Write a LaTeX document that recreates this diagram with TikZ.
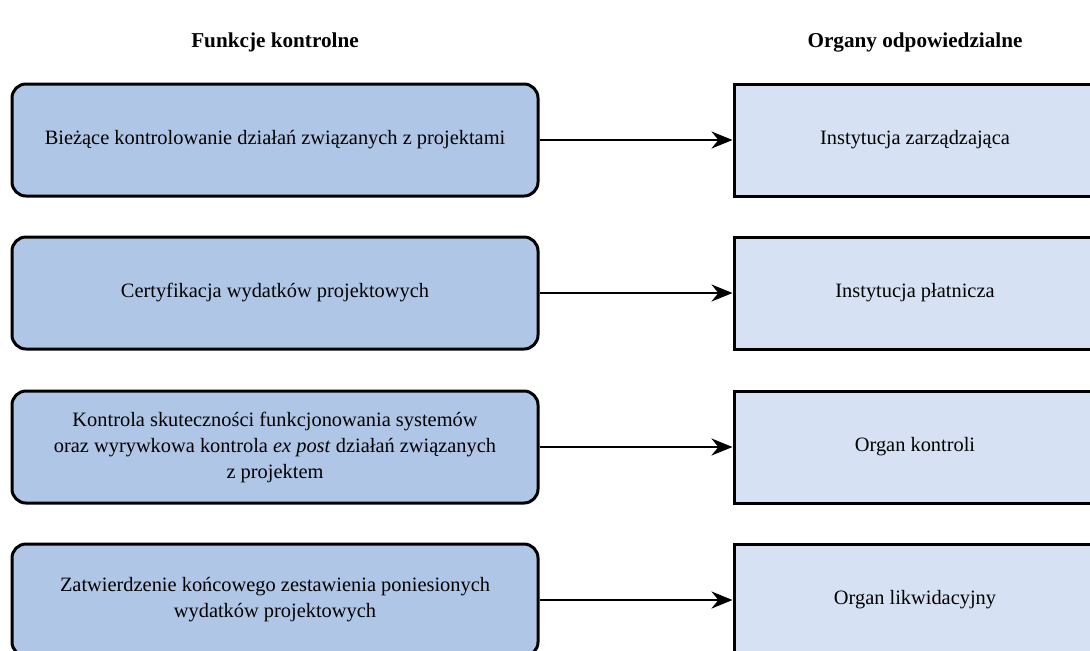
\documentclass[tikz,border=0pt]{standalone}
\usepackage{fontspec}
\setmainfont{Liberation Serif}
\usepackage{xcolor}
\definecolor{funcblue}{RGB}{176, 198, 231}
\definecolor{organblue}{RGB}{214, 226, 243}
\usepackage{tikz}
\usetikzlibrary{arrows.meta, positioning}

\tikzset{
  funcbox/.style={draw=black, line width=1.5pt, fill=funcblue, rounded corners=7pt,
    minimum width=263pt, minimum height=56pt, align=center, font=\fontsize{10.2}{13}\selectfont},
  organbox/.style={draw=black, line width=1.5pt, fill=organblue,
    minimum width=181pt, minimum height=56pt, align=center, font=\fontsize{10.2}{13}\selectfont},
  header/.style={font=\bfseries\fontsize{10.6}{12}\selectfont},
  link/.style={->, line width=1.1pt}
}

\begin{document}
\begin{tikzpicture}[x=0.5pt, y=-0.5pt, >={Stealth[length=10.5pt, width=8.5pt]}]
    \useasboundingbox (0,0) rectangle (1090,650);
    \clip (0,0) rectangle (1090,650);
    % headers
    \node[header] (hfunc) at (275, 42) {Funkcje kontrolne};
    \node[header] (horgan) at (915, 42) {Organy odpowiedzialne};
    % control functions
    \node[funcbox] (f1) at (275, 140) {Bieżące kontrolowanie działań związanych z projektami};
    \node[funcbox] (f2) at (275, 293) {Certyfikacja wydatków projektowych};
    \node[funcbox] (f3) at (275, 447) {Kontrola skuteczności funkcjonowania systemów\\oraz wyrywkowa kontrola \textit{ex post} działań związanych\\z projektem};
    \node[funcbox] (f4) at (275, 600) {Zatwierdzenie końcowego zestawienia poniesionych\\wydatków projektowych};
    % responsible bodies
    \node[organbox] (o1) at (915, 140) {Instytucja zarządzająca};
    \node[organbox] (o2) at (915, 293) {Instytucja płatnicza};
    \node[organbox] (o3) at (915, 447) {Organ kontroli};
    \node[organbox] (o4) at (915, 600) {Organ likwidacyjny};
    % arrows
    \draw[link] (f1) -- (o1);
    \draw[link] (f2) -- (o2);
    \draw[link] (f3) -- (o3);
    \draw[link] (f4) -- (o4);
\end{tikzpicture}
\end{document}
